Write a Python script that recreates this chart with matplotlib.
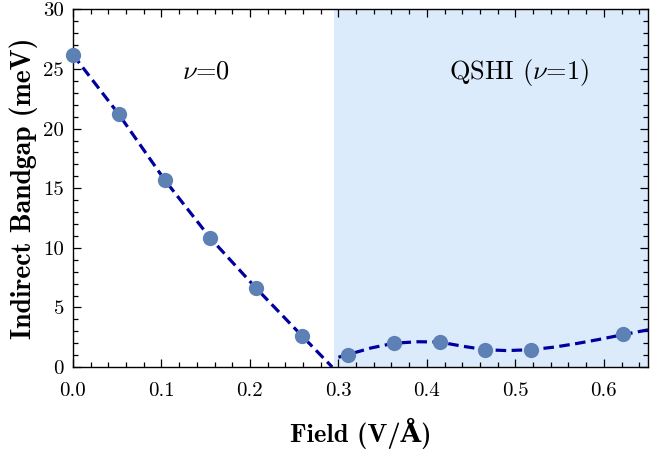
import matplotlib
matplotlib.use('Agg')
import matplotlib.pyplot as plt
from matplotlib.ticker import MultipleLocator

plt.rcParams['mathtext.fontset'] = 'cm'
plt.rcParams['axes.formatter.use_mathtext'] = True

# computed points
field = [0.0, 0.0518, 0.1036, 0.1554, 0.2072, 0.259, 0.3108, 0.3626, 0.4144, 0.4662, 0.518, 0.6216]
gap = [26.2, 21.2, 15.7, 10.8, 6.6, 2.6, 1.03, 2.02, 2.10, 1.43, 1.43, 2.75]

# dashed guide in the trivial phase
fit1_x = [0.0, 0.0518, 0.1036, 0.1554, 0.2072, 0.259, 0.293]
fit1_y = [26.2, 21.2, 15.7, 10.8, 6.6, 2.6, 0.0]

# smooth fit in the QSHI phase
fit2_x = [0.300, 0.311, 0.337, 0.363, 0.39, 0.414, 0.44, 0.466, 0.49, 0.518, 0.545, 0.57, 0.595, 0.622, 0.65]
fit2_y = [0.82, 1.05, 1.6, 2.0, 2.12, 2.1, 1.75, 1.45, 1.38, 1.45, 1.68, 1.98, 2.32, 2.72, 3.12]

qshi_start = 0.2955
xmax = 0.65

fig = plt.figure(figsize=(6.5, 4.5), dpi=100)
ax = fig.add_axes([0.1123, 0.1844, 0.997 - 0.1123, 0.979 - 0.1844])

ax.axvspan(qshi_start, xmax, color='#dcebfc', lw=0, zorder=0)

ax.plot(fit1_x, fit1_y, color='#0000a0', lw=2.3, dashes=(3.3, 1.7), zorder=2)
ax.plot(fit2_x, fit2_y, color='#0000a0', lw=2.3, dashes=(3.3, 1.7), zorder=2)
ax.plot(field, gap, 'o', color='#5e81b5', ms=11, mec='none', zorder=3, clip_on=False)

ax.set_xlim(0, xmax)
ax.set_ylim(0, 30)
ax.xaxis.set_major_locator(MultipleLocator(0.1))
ax.xaxis.set_minor_locator(MultipleLocator(0.02))
ax.yaxis.set_major_locator(MultipleLocator(5))
ax.yaxis.set_minor_locator(MultipleLocator(1))
ax.tick_params(which='both', direction='in', top=True, right=True, width=0.9)
ax.tick_params(which='major', length=6)
ax.tick_params(which='minor', length=3.5)
ax.tick_params(axis='x', which='major', pad=10.5)
ax.tick_params(axis='y', which='major', pad=6.5)
for s in ax.spines.values():
    s.set_linewidth(1.0)

ax.set_xticks([0.0, 0.1, 0.2, 0.3, 0.4, 0.5, 0.6])
ax.set_xticklabels(['0.0', '0.1', '0.2', '0.3', '0.4', '0.5', '0.6'], family='cmr10', fontsize=15)
ax.set_yticks([0, 5, 10, 15, 20, 25, 30])
ax.set_yticklabels(['0', '5', '10', '15', '20', '25', '30'], family='cmr10', fontsize=15)

ax.set_xlabel('Field (V/Å)', family=['cmb10', 'DejaVu Serif'], fontweight='bold', fontsize=19, labelpad=13.5)
ax.set_ylabel('Indirect Bandgap (meV)', family=['cmb10', 'DejaVu Serif'], fontweight='bold', fontsize=20, labelpad=4)

ax.text(0.1506, 24.75, r'$\nu$=0', family='cmr10', fontsize=19, ha='center', va='center')
ax.text(0.504, 24.75, r'QSHI ($\nu$=1)', family='cmr10', fontsize=19, ha='center', va='center')

fig.savefig('out.png', dpi=100)
